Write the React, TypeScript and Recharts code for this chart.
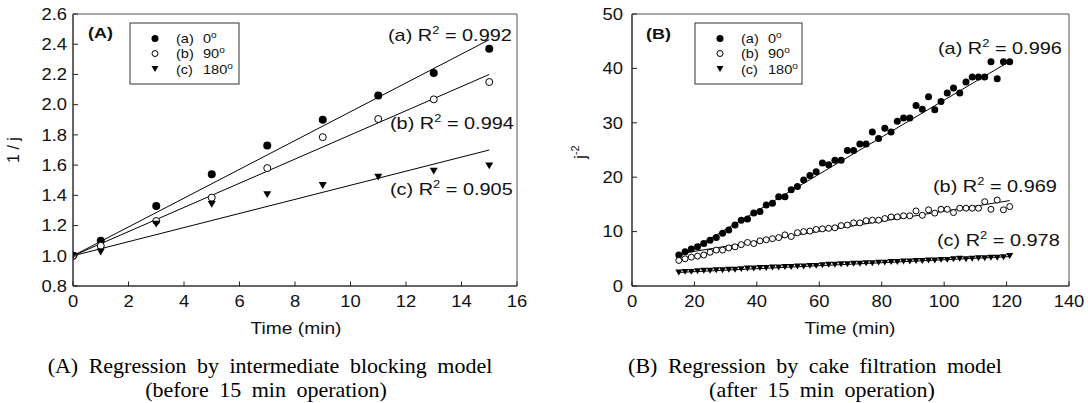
import React from "react";
import { ComposedChart, Line, ReferenceArea, Scatter, XAxis, YAxis } from "recharts";

// (A) intermediate blocking model, first 15 min
const timeA = [0, 1, 3, 5, 7, 9, 11, 13, 15];
const deg0A = [1.0, 1.1, 1.33, 1.54, 1.73, 1.9, 2.06, 2.21, 2.37];
const deg90A = [1.0, 1.066, 1.23, 1.385, 1.58, 1.785, 1.905, 2.035, 2.15];
const deg180A = [1.0, 1.025, 1.21, 1.34, 1.405, 1.465, 1.52, 1.56, 1.595];
const fitTimeA = [0, 15];
const fit0A = [1.0, 2.43];
const fit90A = [1.0, 2.2];
const fit180A = [1.0, 1.7];
const r2A = ["0.992", "0.994", "0.905"];
const xTicksA = [0, 2, 4, 6, 8, 10, 12, 14, 16];
const yTicksA = [0.8, 1.0, 1.2, 1.4, 1.6, 1.8, 2.0, 2.2, 2.4, 2.6];

// (B) cake filtration model, after 15 min
const timeB = [
  15, 17, 19, 21, 23, 25, 27, 29, 31, 33, 35, 37, 39, 41, 43, 45, 47, 49, 51, 53,
  55, 57, 59, 61, 63, 65, 67, 69, 71, 73, 75, 77, 79, 81, 83, 85, 87, 89, 91, 93,
  95, 97, 99, 101, 103, 105, 107, 109, 111, 113, 115, 117, 119, 121,
];
const deg0B = [
  5.7, 6.3, 6.8, 7.2, 7.8, 8.4, 8.9, 9.7, 10.3, 11.2, 12.1, 12.3, 13.4, 13.7, 14.9, 15.2, 16.4, 16.4, 17.7, 18.3,
  19.5, 20.3, 21.0, 22.6, 22.3, 23.1, 23.1, 24.9, 24.9, 26.1, 26.1, 28.3, 27.1, 29.0, 28.3, 30.3, 30.9, 30.9, 33.2, 32.5,
  34.8, 32.4, 33.9, 35.5, 36.4, 35.5, 37.5, 38.4, 38.4, 38.4, 41.2, 38.1, 41.2, 41.2,
];
const deg90B = [
  4.7, 5.0, 5.3, 5.5, 5.7, 6.2, 6.6, 6.6, 7.0, 7.2, 7.6, 8.0, 7.8, 8.3, 8.5, 8.7, 8.9, 9.4, 9.1, 9.8,
  10.0, 10.1, 10.4, 10.5, 10.6, 10.7, 11.1, 11.2, 11.6, 11.6, 12.0, 12.1, 12.1, 12.4, 12.7, 12.7, 12.9, 12.9, 13.8, 13.0,
  14.0, 13.4, 14.1, 14.1, 13.5, 14.3, 14.3, 14.3, 14.3, 15.5, 14.1, 15.8, 14.0, 14.6,
];
const deg180B = [
  2.5, 2.6, 2.6, 2.7, 2.8, 2.8, 2.9, 2.9, 3.0, 3.0, 3.1, 3.2, 3.2, 3.3, 3.3, 3.4, 3.4, 3.5, 3.5, 3.6,
  3.6, 3.7, 3.7, 3.8, 3.9, 3.9, 4.0, 4.0, 4.1, 4.1, 4.2, 4.2, 4.3, 4.3, 4.4, 4.4, 4.5, 4.5, 4.6, 4.6,
  4.7, 4.7, 4.8, 4.8, 4.9, 5.0, 4.9, 5.0, 5.1, 5.1, 5.2, 5.2, 5.3, 5.5,
];
const fitTimeB = [15, 121];
const fit0B = [5.3, 41.3];
const fit90B = [5.9, 15.7];
const fit180B = [2.5, 5.4];
const r2B = ["0.996", "0.969", "0.978"];
const xTicksB = [0, 20, 40, 60, 80, 100, 120, 140];
const yTicksB = [0, 10, 20, 30, 40, 50];

const legendTags = ["(a)", "(b)", "(c)"];
const legendAngles = ["0", "90", "180"];

const SANS = "Arial, 'Liberation Sans', Helvetica, sans-serif";
const SERIF = "'Liberation Serif', 'Times New Roman', serif";
const INK = "#111";

const pts = (xs: number[], ys: number[]) => xs.map((t, i) => ({ t, v: ys[i] }));

type Kind = "filled" | "open" | "down";
const KINDS: Kind[] = ["filled", "open", "down"];

function Marker({ kind, cx, cy, size }: { kind: Kind; cx: number; cy: number; size: number }) {
  if (cx == null || cy == null) return null;
  if (kind === "filled") return <circle cx={cx} cy={cy} r={size / 2} fill="#000" />;
  if (kind === "open")
    return <circle cx={cx} cy={cy} r={size / 2 - 0.5} fill="#fff" stroke="#000" strokeWidth={1} />;
  const w = size;
  const h = size * 0.85;
  return (
    <path
      d={`M${cx - w / 2},${cy - h / 2} L${cx + w / 2},${cy - h / 2} L${cx},${cy + h / 2} Z`}
      fill="#000"
    />
  );
}

// ticks point inward, labels sit outside the frame
const xTick = (baseDy: number) => (props: any) => {
  const { x, y, payload } = props;
  return (
    <g>
      <line x1={x} x2={x} y1={y} y2={y - 4.5} stroke="#222" />
      <text
        transform={`translate(${x} ${y + baseDy}) scale(1.15 1)`}
        textAnchor="middle"
        fontSize={16}
        fontFamily={SANS}
        fill={INK}
      >
        {payload.value}
      </text>
    </g>
  );
};

const yTick = (gap: number, digits: number) => (props: any) => {
  const { x, y, payload } = props;
  return (
    <g>
      <line x1={x} x2={x + 5} y1={y} y2={y} stroke="#222" />
      <text
        transform={`translate(${x - gap} ${y + 5.8}) scale(1.15 1)`}
        textAnchor="end"
        fontSize={16}
        fontFamily={SANS}
        fill={INK}
      >
        {Number(payload.value).toFixed(digits)}
      </text>
    </g>
  );
};

type PanelProps = {
  left: number;
  width: number;
  margin: { top: number; right: number; bottom: number; left: number };
  xDomain: [number, number];
  yDomain: [number, number];
  xTicks: number[];
  yTicks: number[];
  yGap: number;
  yDigits: number;
  series: number[][];
  times: number[];
  fitTimes: number[];
  fits: number[][];
  size: number;
};

function Panel(p: PanelProps) {
  return (
    <div style={{ position: "absolute", left: p.left, top: 0 }}>
      <ComposedChart width={p.width} height={315} margin={p.margin}>
        <XAxis
          type="number"
          dataKey="t"
          domain={p.xDomain}
          ticks={p.xTicks}
          interval={0}
          height={1}
          tickSize={0}
          tickMargin={0}
          tickLine={false}
          axisLine={{ stroke: "#222" }}
          tick={xTick(21)}
          allowDataOverflow
        />
        <YAxis
          type="number"
          dataKey="v"
          domain={p.yDomain}
          ticks={p.yTicks}
          interval={0}
          width={1}
          tickSize={0}
          tickMargin={0}
          tickLine={false}
          axisLine={{ stroke: "#222" }}
          tick={yTick(p.yGap, p.yDigits)}
          allowDataOverflow
        />
        <ReferenceArea
          x1={p.xDomain[0]}
          x2={p.xDomain[1]}
          y1={p.yDomain[0]}
          y2={p.yDomain[1]}
          fill="none"
          stroke="#555"
          strokeWidth={1}
          fillOpacity={0}
        />
        {p.fits.map((f, i) => (
          <Line
            key={`fit${i}`}
            data={pts(p.fitTimes, f)}
            dataKey="v"
            type="linear"
            stroke="#000"
            strokeWidth={1}
            dot={false}
            activeDot={false}
            isAnimationActive={false}
          />
        ))}
        {p.series.map((s, i) => (
          <Scatter
            key={`s${i}`}
            data={pts(p.times, s)}
            isAnimationActive={false}
            shape={(q: any) => <Marker kind={KINDS[i]} cx={q.cx} cy={q.cy} size={p.size} />}
          />
        ))}
      </ComposedChart>
    </div>
  );
}

function Legend({ x, y, w, h }: { x: number; y: number; w: number; h: number }) {
  const rows = [38.5, 53.5, 69];
  return (
    <g>
      <rect x={x} y={y} width={w} height={h} fill="#fff" stroke="#333" strokeWidth={1} />
      {rows.map((ry, i) => (
        <g key={i}>
          <Marker kind={KINDS[i]} cx={x + 25} cy={ry} size={7} />
          <text
            transform={`translate(${x + 46} ${ry + 4.5}) scale(1.12 1)`}
            fontSize={13}
            fontFamily={SANS}
            fill={INK}
          >
            {legendTags[i]}
          </text>
          <text
            transform={`translate(${x + 73} ${ry + 4.5}) scale(1.12 1)`}
            fontSize={13}
            fontFamily={SANS}
            fill={INK}
          >
            {legendAngles[i]}
            <tspan dy={-5} fontSize={9}>
              o
            </tspan>
          </text>
        </g>
      ))}
    </g>
  );
}

function R2({ x, y, tag, value }: { x: number; y: number; tag: string; value: string }) {
  return (
    <text
      transform={`translate(${x} ${y}) scale(1.17 1)`}
      fontSize={17}
      fontFamily={SANS}
      fill={INK}
    >
      {`${tag} R`}
      <tspan dy={-7} fontSize={11}>
        2
      </tspan>
      <tspan dy={7}>{` = ${value}`}</tspan>
    </text>
  );
}

export default function App() {
  return (
    <div
      style={{
        position: "absolute",
        left: 0,
        top: 0,
        width: 1088,
        height: 403,
        background: "#fff",
        overflow: "hidden",
      }}
    >
      <Panel
        left={0}
        width={545}
        margin={{ top: 14, right: 28, bottom: 28, left: 72 }}
        xDomain={[0, 16]}
        yDomain={[0.8, 2.6]}
        xTicks={xTicksA}
        yTicks={yTicksA}
        yGap={6}
        yDigits={1}
        series={[deg0A, deg90A, deg180A]}
        times={timeA}
        fitTimes={fitTimeA}
        fits={[fit0A, fit90A, fit180A]}
        size={8}
      />
      <Panel
        left={545}
        width={543}
        margin={{ top: 14, right: 19, bottom: 28, left: 86 }}
        xDomain={[0, 140]}
        yDomain={[0, 50]}
        xTicks={xTicksB}
        yTicks={yTicksB}
        yGap={9}
        yDigits={0}
        series={[deg0B, deg90B, deg180B]}
        times={timeB}
        fitTimes={fitTimeB}
        fits={[fit0B, fit90B, fit180B]}
        size={7}
      />
      <svg
        width={1088}
        height={403}
        style={{ position: "absolute", left: 0, top: 0, pointerEvents: "none" }}
      >
        {/* panel tags */}
        <text transform="translate(88 38) scale(1.28 1)" fontSize={14} fontWeight="bold" fontFamily={SANS} fill={INK}>
          (A)
        </text>
        <text transform="translate(646 38.5) scale(1.28 1)" fontSize={14} fontWeight="bold" fontFamily={SANS} fill={INK}>
          (B)
        </text>

        <Legend x={130} y={23} w={109} h={61} />
        <Legend x={695} y={23} w={107} h={61} />

        <R2 x={388} y={41} tag="(a)" value={r2A[0]} />
        <R2 x={390} y={129} tag="(b)" value={r2A[1]} />
        <R2 x={390} y={195} tag="(c)" value={r2A[2]} />
        <R2 x={938} y={54} tag="(a)" value={r2B[0]} />
        <R2 x={933} y={192} tag="(b)" value={r2B[1]} />
        <R2 x={937} y={246} tag="(c)" value={r2B[2]} />

        {/* axis titles */}
        <text transform="translate(296 334) scale(1.2 1)" textAnchor="middle" fontSize={16} fontFamily={SANS} fill={INK}>
          Time (min)
        </text>
        <text transform="translate(850 334) scale(1.2 1)" textAnchor="middle" fontSize={16} fontFamily={SANS} fill={INK}>
          Time (min)
        </text>
        <text transform="translate(19 150) rotate(-90)" textAnchor="middle" fontSize={16} fontFamily={SANS} fill={INK}>
          1 / j
        </text>
        <text transform="translate(586 152) rotate(-90)" textAnchor="middle" fontSize={16} fontFamily={SANS} fill={INK}>
          j
          <tspan dy={-7} fontSize={11}>
            -2
          </tspan>
        </text>

        {/* captions */}
        <g fontFamily={SERIF} fontSize={22} fill="#000" textAnchor="middle" style={{ wordSpacing: 5 }}>
          <text x={270} y={373}>
            (A) Regression by intermediate blocking model
          </text>
          <text x={266} y={397}>
            (before 15 min operation)
          </text>
          <text x={815} y={373}>
            (B) Regression by cake filtration model
          </text>
          <text x={822} y={397}>
            (after 15 min operation)
          </text>
        </g>
      </svg>
    </div>
  );
}
